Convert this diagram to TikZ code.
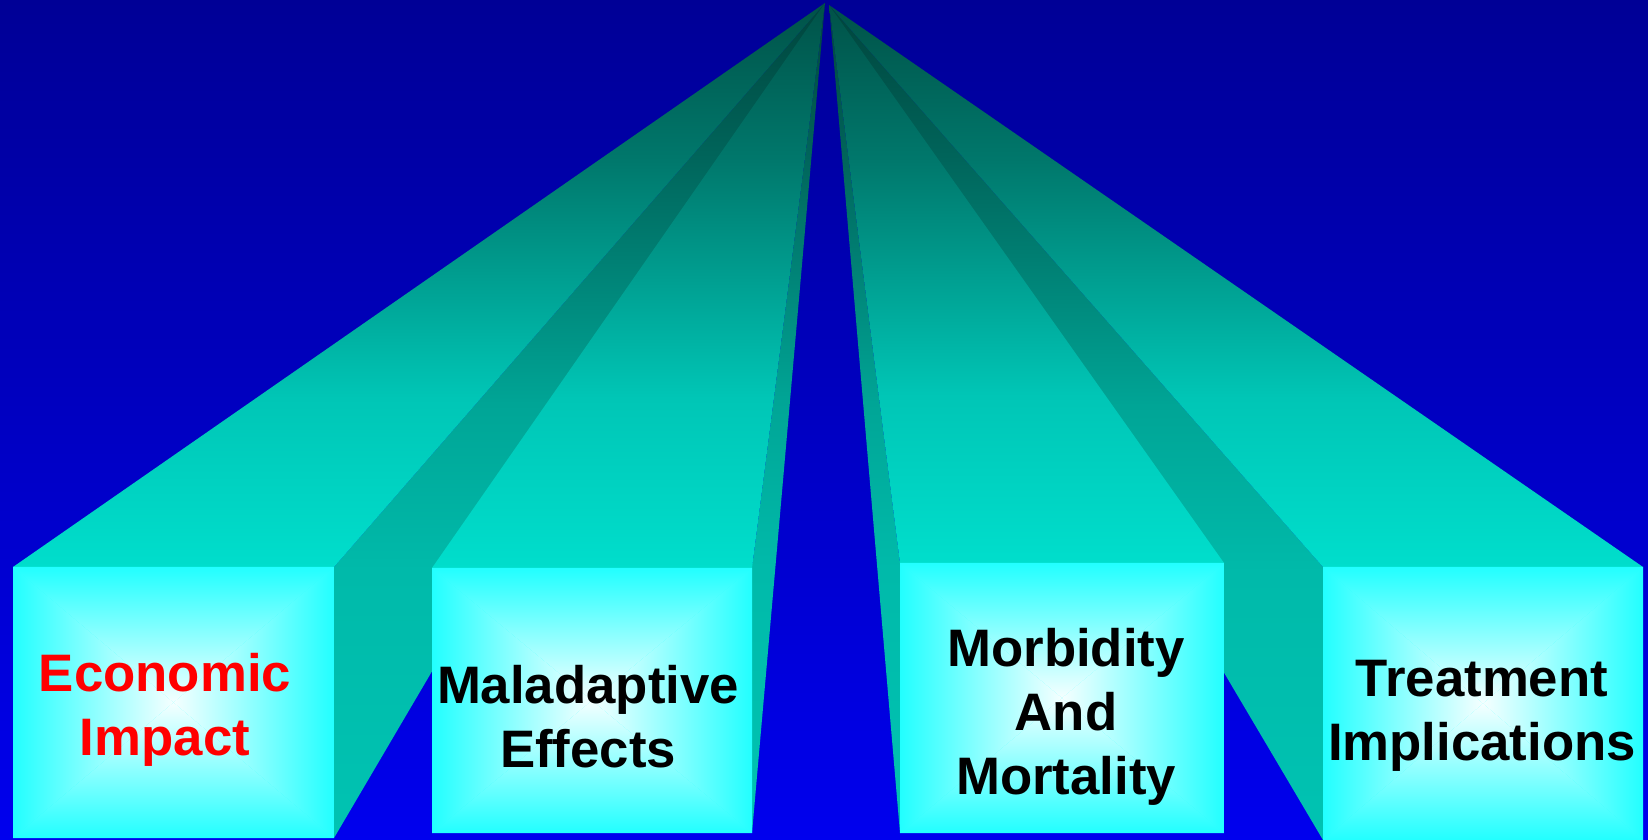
\documentclass[tikz,border=0pt]{standalone}
\usepackage{fontspec}
\setmainfont{Liberation Sans}
\usepackage{tikz}

\definecolor{bgtop}{RGB}{0,0,150}
\definecolor{bgbot}{RGB}{0,0,238}
\definecolor{tdark}{RGB}{0,82,72}
\definecolor{tupper}{RGB}{0,120,108}
\definecolor{tmid}{RGB}{0,198,182}
\definecolor{tfront}{RGB}{0,222,204}
\definecolor{sdark}{RGB}{0,68,60}
\definecolor{supper}{RGB}{0,100,90}
\definecolor{smid}{RGB}{0,165,150}
\definecolor{sfrontA}{RGB}{0,186,170}
\definecolor{sfront}{RGB}{0,195,178}
\definecolor{frontedge}{RGB}{34,255,255}
\definecolor{frontmid}{RGB}{245,255,255}

\pgfdeclareverticalshading{topface}{100bp}{color(0bp)=(tfront); color(25bp)=(tfront); color(40bp)=(tmid); color(61bp)=(tupper); color(75bp)=(tdark); color(100bp)=(tdark)}
\pgfdeclareverticalshading{sideface}{100bp}{color(0bp)=(sfront); color(25bp)=(sfront); color(41bp)=(sfrontA); color(51bp)=(smid); color(66bp)=(supper); color(75bp)=(sdark); color(100bp)=(sdark)}

\begin{document}
\begin{tikzpicture}[x=0.01cm,y=-0.01cm,
    top/.style={shading=topface},
    side/.style={shading=sideface},
    lbl/.style={font=\fontsize{15}{18.2}\selectfont\bfseries,align=center,inner sep=0pt,anchor=north}]
    %background
    \shade[top color=bgtop,bottom color=bgbot] (0,0) rectangle (1648,840);
    \coordinate (apexL) at (825,3);
    \coordinate (apexR) at (829,5);
    %outer beams
    \shade[side] (334,567) -- (334,838) -- (apexL) -- cycle;
    \shade[top] (13,567) -- (334,567) -- (apexL) -- cycle;
    \shade[side] (1323,567) -- (1323,840) -- (apexR) -- cycle;
    \shade[top] (1323,567) -- (1643,567) -- (apexR) -- cycle;
    %inner beams
    \shade[side] (752,568) -- (752,833) -- (apexL) -- cycle;
    \shade[top] (432,568) -- (752,568) -- (apexL) -- cycle;
    \shade[side] (900,563) -- (900,833) -- (apexR) -- cycle;
    \shade[top] (900,563) -- (1224,563) -- (apexR) -- cycle;
    %front faces
    \foreach \l/\t/\r/\b in {13/567/334/838, 432/568/752/833, 900/563/1224/833, 1323/567/1643/840}{
        \coordinate (c) at ({(\l+\r)/2},{(\t+\b)/2});
        \fill[frontedge] (\l,\t) rectangle (\r,\b);
        \shade[top color=frontedge,bottom color=frontmid] (\l,\t) -- (\r,\t) -- (c) -- cycle;
        \shade[top color=frontmid,bottom color=frontedge] (\l,\b) -- (\r,\b) -- (c) -- cycle;
        \shade[left color=frontedge,right color=frontmid] (\l,\t) -- (\l,\b) -- (c) -- cycle;
        \shade[left color=frontmid,right color=frontedge] (\r,\t) -- (\r,\b) -- (c) -- cycle;
    }
    %labels
    \node[lbl,text=red] (econ) at (165,653) {Economic\\Impact};
    \node[lbl] (malad) at (588,665) {Maladaptive\\Effects};
    \node[lbl] (morb) at (1066,628) {Morbidity\\And\\Mortality};
    \node[lbl] (treat) at (1482,660) {Treatment\\Implications};
\end{tikzpicture}
\end{document}
